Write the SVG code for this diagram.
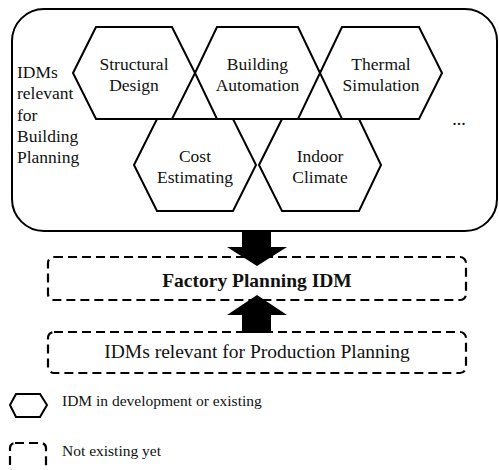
<svg xmlns="http://www.w3.org/2000/svg" width="499" height="470" viewBox="0 0 499 470" font-family="'Liberation Serif', 'DejaVu Serif', serif">
<style>
text{font-family:'Liberation Serif','DejaVu Serif',serif;fill:#111;}
.hx{fill:none;stroke:#000;stroke-width:2;stroke-linejoin:miter;}
.lbl{font-size:17.5px;text-anchor:middle;}
.side{font-size:17.5px;}
.dash{fill:none;stroke:#000;stroke-width:2.2;stroke-dasharray:9 5;}
.arrow{fill:#000;stroke:none;}
.leg{font-size:15.5px;}
</style>
<rect width="499" height="470" fill="#fff"/>
<g id="building-planning">
<rect x="12" y="9" width="485" height="222" rx="32" ry="32" fill="none" stroke="#000" stroke-width="2"/>
<text class="side" x="17" y="78">IDMs</text>
<text class="side" x="17" y="99">relevant</text>
<text class="side" x="17" y="121">for</text>
<text class="side" x="17" y="142">Building</text>
<text class="side" x="17" y="163">Planning</text>
<text x="459" y="125" font-size="18" text-anchor="middle">...</text>
</g>
<g id="structural-design">
<polygon class="hx" points="73,73 96,27 172,27 195,73 172,119 96,119"/>
<text class="lbl" x="134" y="70">Structural</text>
<text class="lbl" x="134" y="91">Design</text>
</g>
<g id="building-automation">
<polygon class="hx" points="195,73 217,27 298,27 320,73 298,119 217,119"/>
<text class="lbl" x="257.5" y="70">Building</text>
<text class="lbl" x="257.5" y="91">Automation</text>
</g>
<g id="thermal-simulation">
<polygon class="hx" points="320,73 342,27 419,27 442,73 419,119 342,119"/>
<text class="lbl" x="381" y="70">Thermal</text>
<text class="lbl" x="381" y="91">Simulation</text>
</g>
<g id="cost-estimating">
<polygon class="hx" points="134,165 157,119 233,119 256,165 233,211 157,211"/>
<text class="lbl" x="195" y="162">Cost</text>
<text class="lbl" x="195" y="183">Estimating</text>
</g>
<g id="indoor-climate">
<polygon class="hx" points="259,165 282,119 359,119 381,165 359,211 282,211"/>
<text class="lbl" x="320" y="162">Indoor</text>
<text class="lbl" x="320" y="183">Climate</text>
</g>
<g id="factory-planning-idm">
<rect class="dash" x="48" y="257" width="418" height="43" rx="6" ry="6"/>
<text x="257" y="287" font-size="19.5" font-weight="bold" text-anchor="middle">Factory Planning IDM</text>
</g>
<g id="production-planning">
<rect class="dash" x="48" y="332" width="418" height="41" rx="6" ry="6"/>
<text x="257" y="358" font-size="19.5" text-anchor="middle">IDMs relevant for Production Planning</text>
</g>
<g id="connectors">
<polygon class="arrow" points="242,231 271,231 271,247 287,247 257,266 227,247 242,247"/>
<polygon class="arrow" points="257,295 287,315 271,315 271,333 242,333 242,315 227,315"/>
</g>
<g id="legend">
<polygon class="hx" points="10,405 16,394 40,394 47,405 40,417 16,417"/>
<text class="leg" x="62" y="406">IDM in development or existing</text>
<rect class="dash" x="10" y="443" width="36" height="30" rx="5" ry="5"/>
<text class="leg" x="62" y="456">Not existing yet</text>
</g>
</svg>
